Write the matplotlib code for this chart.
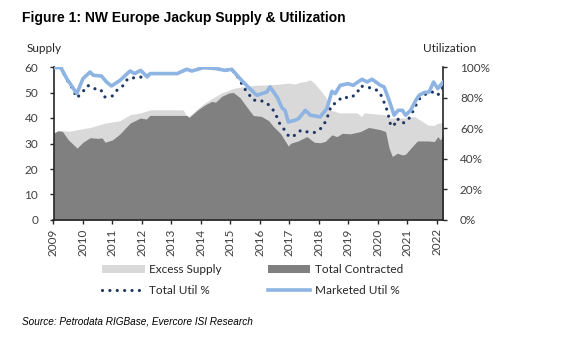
import matplotlib
matplotlib.use("Agg")
import matplotlib.pyplot as plt
from matplotlib.patches import Rectangle
from matplotlib.lines import Line2D

# ---- data (decimal years) ----
supply_t = [2009.0, 2009.3, 2009.55, 2009.8, 2010.25, 2010.75, 2011.25, 2011.6, 2011.95, 2012.3,
            2013.4, 2013.5, 2013.6, 2013.9, 2014.15, 2014.4, 2014.7, 2014.95, 2015.1, 2015.4,
            2015.8, 2016.3, 2016.7, 2016.97, 2017.2, 2017.35, 2017.55, 2017.71, 2017.85, 2018.05,
            2018.25, 2018.4, 2018.7, 2019.3, 2019.45, 2019.55, 2020.0, 2020.25, 2020.4, 2020.9,
            2021.25, 2021.7, 2021.9, 2022.05, 2022.23]
supply_v = [34.5, 35.0, 34.8, 35.4, 36.3, 38.0, 38.9, 41.3, 42.0, 43.2,
            43.2, 41.3, 40.6, 43.8, 46.0, 47.8, 49.8, 50.8, 51.6, 52.2,
            52.8, 53.0, 53.3, 53.7, 53.3, 54.0, 54.3, 55.0, 53.7, 51.0,
            48.0, 43.2, 42.0, 42.0, 40.6, 42.0, 41.5, 41.3, 40.0, 40.0,
            40.6, 37.3, 37.0, 38.0, 38.0]

contr_t = [2009.0, 2009.15, 2009.3, 2009.5, 2009.8, 2010.0, 2010.25, 2010.5, 2010.65, 2010.75,
           2011.0, 2011.25, 2011.6, 2011.95, 2012.15, 2012.27, 2013.52, 2013.6, 2013.9, 2014.15,
           2014.37, 2014.5, 2014.71, 2014.95, 2015.1, 2015.33, 2015.55, 2015.78, 2016.06, 2016.3,
           2016.46, 2016.7, 2016.97, 2017.05, 2017.3, 2017.6, 2017.85, 2018.05, 2018.22, 2018.45,
           2018.62, 2018.8, 2019.08, 2019.42, 2019.7, 2020.1, 2020.27, 2020.39, 2020.5, 2020.67,
           2020.84, 2020.95, 2021.13, 2021.35, 2021.7, 2021.93, 2022.04, 2022.13, 2022.23]
contr_v = [34.0, 35.0, 34.8, 31.5, 28.2, 30.5, 32.3, 32.0, 32.2, 30.5,
           31.4, 33.7, 38.0, 40.0, 39.6, 41.0, 41.0, 40.2, 43.2, 45.2,
           46.5, 46.2, 48.5, 49.8, 50.0, 48.0, 44.5, 41.0, 40.6, 39.0,
           36.7, 34.0, 29.0, 30.1, 31.0, 32.7, 30.5, 30.3, 30.8, 33.4,
           32.7, 34.0, 33.8, 34.7, 36.3, 35.4, 34.7, 28.2, 24.9, 26.2,
           25.5, 25.8, 28.2, 31.0, 31.0, 30.8, 32.7, 31.4, 33.4]

mkt_t = [2009.0, 2009.25, 2009.45, 2009.79, 2010.0, 2010.24, 2010.35, 2010.63, 2010.8, 2010.97,
         2011.26, 2011.6, 2011.75, 2011.96, 2012.18, 2012.28, 2013.2, 2013.52, 2013.7, 2014.09,
         2014.5, 2014.82, 2015.05, 2015.33, 2015.55, 2015.9, 2016.24, 2016.35, 2016.6, 2016.75,
         2016.86, 2016.97, 2017.2, 2017.32, 2017.55, 2017.72, 2018.05, 2018.28, 2018.45, 2018.56,
         2018.73, 2019.0, 2019.17, 2019.47, 2019.64, 2019.81, 2020.1, 2020.22, 2020.39, 2020.56,
         2020.7, 2020.84, 2020.95, 2021.12, 2021.3, 2021.41, 2021.58, 2021.75, 2021.9, 2022.04,
         2022.23]
mkt_v = [99.6, 99.6, 92.4, 82.6, 92.4, 96.7, 94.6, 94.1, 90.2, 87.6,
         91.3, 97.4, 95.7, 97.8, 93.5, 95.7, 95.7, 98.5, 97.4, 99.6,
         99.0, 97.8, 98.5, 92.4, 88.0, 81.5, 83.7, 87.0, 80.0, 73.5,
         71.5, 64.1, 65.2, 66.3, 71.7, 68.5, 67.4, 72.9, 84.1, 82.6,
         88.0, 89.1, 88.0, 92.0, 90.2, 92.0, 88.0, 87.0, 78.3, 68.5,
         71.7, 71.7, 68.5, 71.7, 78.3, 81.5, 83.3, 83.7, 90.2, 85.9,
         90.2]

tot_t = [2009.0, 2009.25, 2009.45, 2009.68, 2009.79, 2009.99, 2010.16, 2010.35, 2010.6, 2010.73,
         2011.0, 2011.2, 2011.38, 2011.52, 2011.8, 2012.03, 2012.2, 2012.3, 2013.2, 2013.52,
         2013.7, 2014.09, 2014.5, 2014.82, 2015.05, 2015.3, 2015.44, 2015.78, 2016.0, 2016.24,
         2016.44, 2016.58, 2016.69, 2016.85, 2017.0, 2017.2, 2017.4, 2017.61, 2017.86, 2018.1,
         2018.26, 2018.35, 2018.43, 2018.62, 2018.79, 2019.07, 2019.3, 2019.41, 2019.64, 2019.87,
         2020.04, 2020.15, 2020.3, 2020.38, 2020.45, 2020.56, 2020.67, 2020.84, 2021.03, 2021.18,
         2021.3, 2021.43, 2021.6, 2021.85, 2022.04, 2022.23]
tot_v = [99.6, 99.6, 92.0, 84.8, 79.8, 83.7, 88.0, 85.9, 85.4, 80.4,
         81.1, 85.9, 88.0, 92.4, 93.1, 93.5, 94.5, 95.7, 95.7, 98.5,
         97.4, 99.6, 99.0, 97.8, 98.5, 92.4, 87.0, 78.3, 78.3, 76.5,
         72.4, 67.4, 62.4, 58.7, 54.3, 55.4, 58.7, 57.6, 57.2, 60.2,
         65.2, 70.3, 75.0, 76.8, 80.4, 79.8, 82.6, 87.6, 86.8, 85.9,
         84.1, 80.4, 72.9, 67.4, 61.3, 62.0, 66.3, 63.1, 65.2, 70.3,
         75.0, 79.4, 82.0, 83.7, 81.5, 87.0]

years = list(range(2009, 2023))
supply_ticks = [0, 10, 20, 30, 40, 50, 60]
util_ticks = [0, 20, 40, 60, 80, 100]

title = "Figure 1: NW Europe Jackup Supply & Utilization"
source = "Source: Petrodata RIGBase, Evercore ISI Research"

# ---- styling ----
C_EXCESS = "#d9d9d9"
C_CONTR = "#808080"
C_MKT = "#8db4e2"
C_TOT = "#1f3864"
C_AX = "#262626"
C_TXT = "#404040"
FONT = ["Lato", "DejaVu Sans"]
FS = 8.5

fig = plt.figure(figsize=(5.68, 3.51), dpi=100)
ax = fig.add_axes([53.5 / 568, 1 - 220 / 351, (443.3 - 53.5) / 568, (220 - 67) / 351])
ax2 = ax.twinx()

ax.fill_between(supply_t, 0, supply_v, color=C_EXCESS, lw=0, zorder=1)
ax.fill_between(contr_t, 0, contr_v, color=C_CONTR, lw=0, zorder=2)

ax2.plot(tot_t, tot_v, color=C_TOT, lw=2.3, linestyle=(0, (0.01, 2.3)),
         dash_capstyle="round", zorder=3)
ax2.plot(mkt_t, mkt_v, color=C_MKT, lw=2.6, solid_joinstyle="round", zorder=4)

ax.set_xlim(2009, 2022.23)
ax.set_ylim(0, 60)
ax2.set_ylim(0, 100)
ax.set_xticks(years)
ax.set_xticklabels([str(y) for y in years], rotation=90, fontsize=FS, family=FONT, color=C_TXT)
ax.set_yticks(supply_ticks)
ax.set_yticklabels([str(v) for v in supply_ticks], fontsize=FS, family=FONT, color=C_TXT)
ax2.set_yticks(util_ticks)
ax2.set_yticklabels([f"{v}%" for v in util_ticks], fontsize=FS, family=FONT, color=C_TXT)

for a in (ax, ax2):
    a.spines["top"].set_visible(False)
    for s in ("left", "right", "bottom"):
        a.spines[s].set_color(C_AX)
        a.spines[s].set_linewidth(1.2)
ax.spines["right"].set_visible(False)
ax2.spines["left"].set_visible(False)
ax2.spines["bottom"].set_visible(False)
ax.tick_params(axis="y", direction="out", length=3, width=1, color=C_AX, pad=8)
ax.tick_params(axis="x", direction="out", length=3, width=1, color=C_AX, pad=3)
ax2.tick_params(axis="y", direction="out", length=3, width=1, color=C_AX, pad=9)
ax.set_zorder(1)
ax2.set_zorder(2)
ax2.patch.set_visible(False)

fig.text(27 / 568, 1 - 49 / 351, "Supply", fontsize=FS, family=FONT, color=C_AX,
         ha="left", va="center")
fig.text(423 / 568, 1 - 49 / 351, "Utilization", fontsize=FS, family=FONT, color=C_AX,
         ha="left", va="center")

fig.text(22 / 568, 1 - 18 / 351, title, fontsize=10, fontweight="bold",
         family=["Liberation Sans", "DejaVu Sans"], color="black", ha="left", va="center")
fig.text(22 / 568, 1 - 321 / 351, source, fontsize=7.2, style="italic",
         family=["Liberation Sans", "DejaVu Sans"], color="black", ha="left", va="center")

h_ex = Rectangle((0, 0), 1, 1, facecolor=C_EXCESS, edgecolor="none")
h_co = Rectangle((0, 0), 1, 1, facecolor=C_CONTR, edgecolor="none")
h_tot = Line2D([], [], color=C_TOT, lw=2.3, linestyle=(0, (0.01, 2.3)), dash_capstyle="round")
h_mkt = Line2D([], [], color=C_MKT, lw=2.6)
leg = fig.legend([h_ex, h_tot, h_co, h_mkt],
                 ["Excess Supply", "Total Util %", "Total Contracted", "Marketed Util %"],
                 ncol=2, frameon=False, prop={"family": FONT, "size": FS},
                 handlelength=3.6, handletextpad=0.4, columnspacing=3.9,
                 labelspacing=0.85, loc="upper left",
                 bbox_to_anchor=(102 / 568, 1 - 264 / 351), borderaxespad=0, borderpad=0)
for t in leg.get_texts():
    t.set_color(C_AX)

fig.savefig("out.png", dpi=100)
